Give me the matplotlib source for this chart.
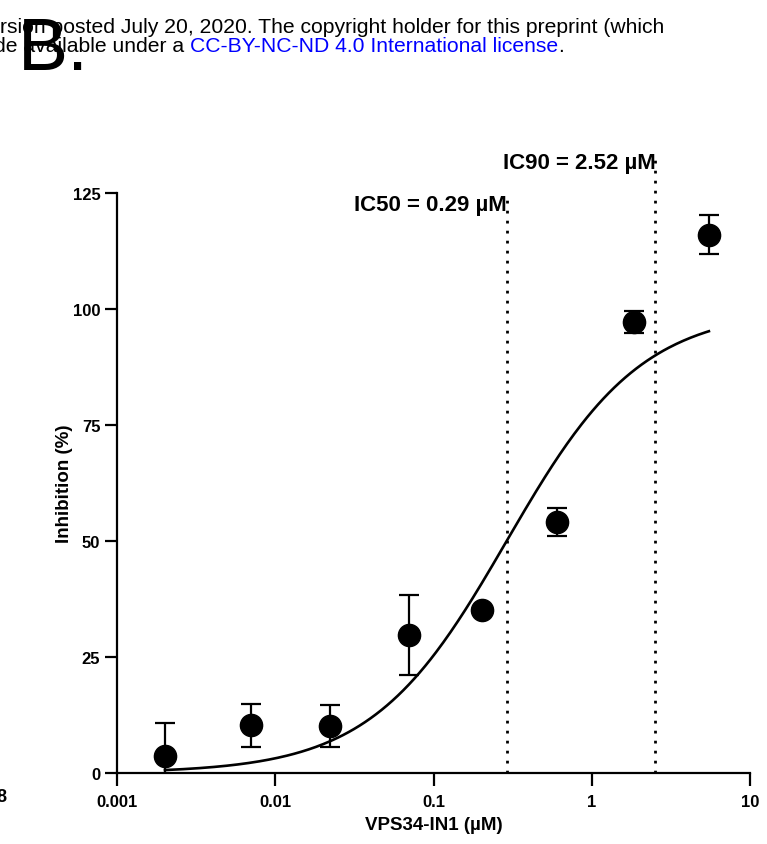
import numpy as np
import matplotlib
matplotlib.use("Agg")
import matplotlib.pyplot as plt
from matplotlib import font_manager

# ---- data ----
conc = [0.00201, 0.00703, 0.0222, 0.070, 0.202, 0.603, 1.85, 5.5]
inhibition = [3.7, 10.3, 10.1, 29.7, 35.1, 54.1, 97.2, 116.0]
err = [7.1, 4.6, 4.5, 8.6, 0.5, 3.0, 2.3, 4.2]

ic50 = 0.29
ic90 = 2.52
hill = 1.016
bottom_fit, top_fit = 0.0, 100.0
fit_range = (0.00201, 5.5)

xticks = [0.001, 0.01, 0.1, 1, 10]
xticklabels = ["0.001", "0.01", "0.1", "1", "10"]
yticks = [0, 25, 50, 75, 100, 125]

plt.rcParams['font.family'] = ['Liberation Sans', 'DejaVu Sans']
names = {f.name for f in font_manager.fontManager.ttflist}
tick_family = ['Liberation Sans Narrow', 'Liberation Sans'] if 'Liberation Sans Narrow' in names else ['Liberation Sans']
tick_size = 13.5 if 'Liberation Sans Narrow' in names else 12

W, H = 767, 845
fig = plt.figure(figsize=(W / 100, H / 100), dpi=100)
ax = fig.add_axes([117 / W, 1 - 774 / H, (750 - 117) / W, (774 - 194) / H])

# fitted curve
xs = np.logspace(np.log10(fit_range[0]), np.log10(fit_range[1]), 300)
ys = bottom_fit + (top_fit - bottom_fit) / (1 + (ic50 / xs) ** hill)
ax.plot(xs, ys, color='black', lw=1.9, zorder=2)

# data points
ax.errorbar(conc, inhibition, yerr=err, fmt='o', color='black', ms=16,
            ecolor='black', elinewidth=1.6, capsize=7.5, capthick=1.6, zorder=3)

# IC lines
ax.plot([ic50, ic50], [0, 124.5], ls=(0, (1, 2.6)), color='black', lw=2.0,
        clip_on=False, zorder=1)
ax.plot([ic90, ic90], [0, 133.5], ls=(0, (1, 2.6)), color='black', lw=2.0,
        clip_on=False, zorder=1)
ax.text(ic50, 122.5, "IC50 = 0.29 µM", ha='right', va='center', fontsize=16,
        fontweight='bold', clip_on=False)
ax.text(ic90, 131.5, "IC90 = 2.52 µM", ha='right', va='center', fontsize=16,
        fontweight='bold', clip_on=False)

ax.set_xscale('log')
ax.set_xlim(0.001, 10)
ax.set_ylim(0, 125)
ax.set_xticks(xticks)
ax.set_xticklabels(xticklabels)
ax.xaxis.set_minor_locator(matplotlib.ticker.NullLocator())
ax.set_yticks(yticks)
for lab in ax.get_xticklabels() + ax.get_yticklabels():
    lab.set_fontweight('bold')
    lab.set_family(tick_family)
    lab.set_fontsize(tick_size)
ax.tick_params(axis='both', direction='out', length=9, width=1.6, pad=3)
ax.tick_params(axis='x', pad=6)
for s in ['top', 'right']:
    ax.spines[s].set_visible(False)
for s in ['left', 'bottom']:
    ax.spines[s].set_linewidth(1.6)
ax.set_xlabel("VPS34-IN1 (µM)", fontsize=13.5, fontweight='bold', labelpad=5)
ax.set_ylabel("Inhibition (%)", fontsize=13.5, fontweight='bold', labelpad=0)

# header (cropped preprint text)
hs = 15.2
t1 = fig.text(0, 1 - 33 / H, "rsion posted July 20, 2020. The copyright holder for this preprint (which",
              fontsize=hs, ha='left', va='baseline')
x2 = -6 / W
t2 = fig.text(x2, 1 - 52 / H, "de available under a ", fontsize=hs, ha='left', va='baseline')
fig.canvas.draw()
r = fig.canvas.get_renderer()
bb = t2.get_window_extent(r)
t3 = fig.text(bb.x1 / W, 1 - 52 / H, "CC-BY-NC-ND 4.0 International license",
              fontsize=hs, ha='left', va='baseline', color='#0000ff')
fig.canvas.draw()
bb3 = t3.get_window_extent(r)
fig.text(bb3.x1 / W, 1 - 52 / H, ".", fontsize=hs, ha='left', va='baseline')

fig.text(18 / W, 1 - 70 / H, "B.", fontsize=54, ha='left', va='baseline')
fig.text(6 / W, 1 - 802 / H, "8", fontsize=13, fontweight='bold', ha='right', va='baseline')

fig.savefig("out.png", dpi=100)
